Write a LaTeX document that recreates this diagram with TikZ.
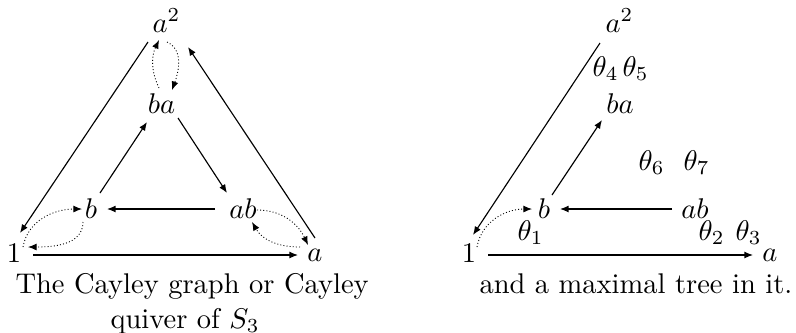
\documentclass[tikz,border=0pt]{standalone}
\usetikzlibrary{arrows.meta,calc}
\begin{document}
\begin{tikzpicture}[x=0.351pt,y=0.351pt,
  obj/.style={inner sep=0pt, anchor=base},
  lbl/.style={inner sep=0pt, anchor=base west},
  ar/.style={-{Latex[length=3pt,width=2.4pt]}, line width=0.4pt},
  dar/.style={ar, line width=0.3pt, dash pattern=on 0.35pt off 0.75pt}]
\useasboundingbox (0,0) rectangle (796,-332);
% ---------- left diagram ----------
\node[obj] (n1)  at (14,-262)    {$1$};
\node[obj] (na)  at (315,-261)   {$a$};
\node[obj] (na2) at (166.5,-32)  {$a^2$};
\node[obj] (nba) at (161.5,-113) {$ba$};
\node[obj] (nb)  at (91,-218)    {$b$};
\node[obj] (nab) at (243,-218)   {$ab$};
\draw[ar] ($(n1.base)+(19,7)$) -- ($(na.base)+(-17,6)$);
\draw[ar] ($(na.base)+(0,23)$) -- ($(na2.base)+(21.5,-15)$);
\draw[ar] ($(na2.base)+(-18.5,-10)$) -- ($(n1.base)+(6,29)$);
\draw[ar] ($(nb.base)+(9,25)$) -- ($(nba.base)+(-14.5,-9)$);
\draw[ar] ($(nba.base)+(16.5,-5)$) -- ($(nab.base)+(-16,25)$);
\draw[ar] ($(nab.base)+(-28,9)$) -- ($(nb.base)+(16,9)$);
\draw[dar] ($(n1.base)+(9,15)$) to[out=80,in=180] ($(nb.base)+(-9,9)$);
\draw[dar] ($(nb.base)+(-8,-4)$) to[out=-90,in=0] ($(n1.base)+(14,15)$);
\draw[dar] ($(nab.base)+(14,8)$) to[out=0,in=115] ($(na.base)+(-7,16)$);
\draw[dar] ($(na.base)+(-15,14)$) to[out=180,in=-60] ($(nab.base)+(9,-4)$);
\draw[dar] ($(nba.base)+(-2.5,25)$) to[out=115,in=-115] ($(na2.base)+(-7.5,-8)$);
\draw[dar] ($(na2.base)+(0.5,-10)$) to[out=-25,in=70] ($(nba.base)+(10.5,23)$);
\node[lbl] (c1) at (15,-293) {The Cayley graph or Cayley};
\node[lbl] (c2) at (110,-328) {quiver of $S_3$};
% ---------- right diagram ----------
\node[obj] (m1)  at (469,-262)   {$1$};
\node[obj] (ma)  at (770,-261)   {$a$};
\node[obj] (ma2) at (619.5,-32)  {$a^2$};
\node[obj] (mba) at (620,-113)   {$ba$};
\node[obj] (mb)  at (544,-218)   {$b$};
\node[obj] (mab) at (695,-218)   {$ab$};
\draw[ar] ($(m1.base)+(19,7)$) -- ($(ma.base)+(-17,6)$);
\draw[ar] ($(ma2.base)+(-19.5,-11)$) -- ($(m1.base)+(4,27)$);
\draw[ar] ($(mb.base)+(8,23)$) -- ($(mba.base)+(-18,-7)$);
\draw[ar] ($(mab.base)+(-23,9)$) -- ($(mb.base)+(16,9)$);
\draw[dar] ($(m1.base)+(8,15)$) to[out=80,in=180] ($(mb.base)+(-12,9)$);
\node[lbl] (t1) at (517,-240) {$\theta_1$};
\node[lbl] (t2) at (698,-240) {$\theta_2$};
\node[lbl] (t3) at (735,-240) {$\theta_3$};
\node[lbl] (t4) at (592,-76)  {$\theta_4$};
\node[lbl] (t5) at (622,-76)  {$\theta_5$};
\node[lbl] (t6) at (638,-170) {$\theta_6$};
\node[lbl] (t7) at (683,-170) {$\theta_7$};
\node[lbl] (c3) at (479,-293) {and a maximal tree in it.};
\end{tikzpicture}
\end{document}
